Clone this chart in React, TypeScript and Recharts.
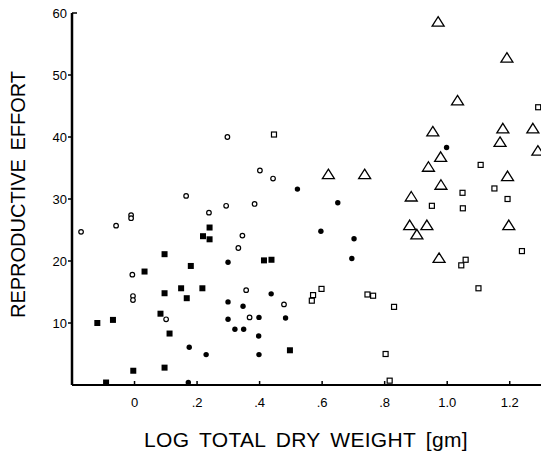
import React from "react";
import { ScatterChart, Scatter, XAxis, YAxis, Label } from "recharts";

// open circles
const openCircleX = [-0.171, -0.059, -0.011, -0.011, -0.007, -0.005, -0.005, 0.101, 0.165, 0.238, 0.293, 0.297, 0.332, 0.345, 0.357, 0.368, 0.384, 0.401, 0.443, 0.478];
const openCircleY = [24.7, 25.7, 27.4, 26.9, 17.8, 14.35, 13.7, 10.6, 30.5, 27.8, 28.9, 40.0, 22.1, 24.1, 15.3, 10.9, 29.2, 34.6, 33.3, 13.0];

// filled squares
const filledSquareX = [-0.091, -0.119, -0.069, -0.004, 0.032, 0.083, 0.096, 0.096, 0.096, 0.112, 0.149, 0.167, 0.18, 0.217, 0.219, 0.24, 0.24, 0.414, 0.438, 0.497];
const filledSquareY = [0.4, 10.0, 10.5, 2.3, 18.3, 11.5, 21.1, 14.8, 2.8, 8.3, 15.6, 14.0, 19.2, 15.6, 24.0, 25.4, 23.5, 20.1, 20.2, 5.6];

// filled circles
const filledCircleX = [0.172, 0.175, 0.229, 0.299, 0.299, 0.299, 0.321, 0.347, 0.349, 0.397, 0.398, 0.398, 0.437, 0.483, 0.521, 0.596, 0.65, 0.695, 0.702, 0.998];
const filledCircleY = [0.4, 6.1, 4.9, 19.8, 13.4, 10.6, 9.0, 12.7, 9.0, 7.9, 10.9, 4.9, 14.7, 10.8, 31.6, 24.8, 29.4, 20.4, 23.6, 38.3];

// open squares
const openSquareX = [0.446, 0.567, 0.571, 0.598, 0.745, 0.763, 0.803, 0.816, 0.83, 0.951, 1.045, 1.05, 1.049, 1.059, 1.1, 1.107, 1.151, 1.193, 1.239, 1.291];
const openSquareY = [40.4, 13.6, 14.5, 15.5, 14.6, 14.4, 5.0, 0.7, 12.6, 28.9, 19.3, 28.5, 31.0, 20.2, 15.6, 35.5, 31.7, 30.0, 21.6, 44.8];

// open triangles
const triangleX = [0.62, 0.736, 0.88, 0.885, 0.903, 0.935, 0.94, 0.954, 0.971, 0.974, 0.979, 0.98, 1.033, 1.169, 1.178, 1.191, 1.193, 1.197, 1.274, 1.29];
const triangleY = [34.0, 34.0, 25.8, 30.4, 24.3, 25.8, 35.2, 40.9, 58.6, 20.5, 36.8, 32.3, 45.9, 39.2, 41.4, 52.8, 33.7, 25.8, 41.4, 37.8];

const xTicks = [0, 0.2, 0.4, 0.6, 0.8, 1.0, 1.2];
const xTickLabels = ["0", ".2", ".4", ".6", ".8", "1.0", "1.2"];
const yTicks = [10, 20, 30, 40, 50, 60];

const toPoints = (xs: number[], ys: number[]) => xs.map((x, i) => ({ x, y: ys[i] }));

const tickFont = "'Liberation Sans', Arial, sans-serif";

const OpenCircle = (p: any) => (
  <circle cx={p.cx} cy={p.cy} r={2.3} fill="#fff" stroke="#000" strokeWidth={1.2} />
);
const FilledCircle = (p: any) => <circle cx={p.cx} cy={p.cy} r={2.7} fill="#000" />;
const FilledSquare = (p: any) => <rect x={p.cx - 3} y={p.cy - 3} width={6} height={6} fill="#000" />;
const OpenSquare = (p: any) => (
  <rect x={p.cx - 2.5} y={p.cy - 2.5} width={5} height={5} fill="#fff" stroke="#000" strokeWidth={1.2} />
);
const Triangle = (p: any) => (
  <path
    d={`M${p.cx},${p.cy - 5} L${p.cx + 6},${p.cy + 4.5} L${p.cx - 6},${p.cy + 4.5} Z`}
    fill="none"
    stroke="#000"
    strokeWidth={1.3}
  />
);

const XTick = (p: any) => {
  const i = xTicks.indexOf(p.payload.value);
  return (
    <g>
      <line x1={p.x} y1={p.y} x2={p.x} y2={p.y - 4} stroke="#000" strokeWidth={1.5} />
      <text x={p.x} y={p.y + 22} textAnchor="middle" fontSize={13} fontFamily={tickFont} fill="#000">
        {xTickLabels[i]}
      </text>
    </g>
  );
};

const YTick = (p: any) => {
  const top = p.payload.value === 60;
  return (
    <g>
      <line x1={p.x} y1={p.y} x2={top ? p.x + 5 : p.x - 4} y2={p.y} stroke="#000" strokeWidth={1.5} />
      <text x={p.x - 5} y={p.y + 4.5} textAnchor="end" fontSize={13} fontFamily={tickFont} fill="#000">
        {p.payload.value}
      </text>
    </g>
  );
};

export default function App() {
  return (
    <div style={{ position: "absolute", left: 0, top: 0, background: "#fff" }}>
      <ScatterChart width={541} height={456} margin={{ top: 13, right: 0, left: 0, bottom: 0 }}>
        <XAxis
          type="number"
          dataKey="x"
          domain={[-0.2, 1.3]}
          ticks={xTicks}
          tick={<XTick />}
          tickLine={false}
          tickSize={0}
          tickMargin={0}
          height={71}
          axisLine={{ stroke: "#000", strokeWidth: 2 }}
          allowDataOverflow
        >
          <Label
            content={() => (
              <text
                x={306}
                y={447}
                textAnchor="middle"
                fontSize={21}
                letterSpacing={0.3}
                wordSpacing={4}
                fontFamily={tickFont}
                fill="#000"
              >
                LOG TOTAL DRY WEIGHT [gm]
              </text>
            )}
          />
        </XAxis>
        <YAxis
          type="number"
          dataKey="y"
          domain={[0, 60]}
          ticks={yTicks}
          tick={<YTick />}
          tickLine={false}
          tickSize={0}
          tickMargin={0}
          width={72}
          axisLine={{ stroke: "#000", strokeWidth: 2.5 }}
        >
          <Label
            content={() => (
              <text
                x={25}
                y={194.5}
                transform="rotate(-90, 25, 194.5)"
                textAnchor="middle"
                fontSize={20}
                wordSpacing={3}
                fontFamily={tickFont}
                fill="#000"
              >
                REPRODUCTIVE EFFORT
              </text>
            )}
          />
        </YAxis>
        <Scatter data={toPoints(openCircleX, openCircleY)} shape={OpenCircle} isAnimationActive={false} />
        <Scatter data={toPoints(filledSquareX, filledSquareY)} shape={FilledSquare} isAnimationActive={false} />
        <Scatter data={toPoints(filledCircleX, filledCircleY)} shape={FilledCircle} isAnimationActive={false} />
        <Scatter data={toPoints(openSquareX, openSquareY)} shape={OpenSquare} isAnimationActive={false} />
        <Scatter data={toPoints(triangleX, triangleY)} shape={Triangle} isAnimationActive={false} />
      </ScatterChart>
    </div>
  );
}
